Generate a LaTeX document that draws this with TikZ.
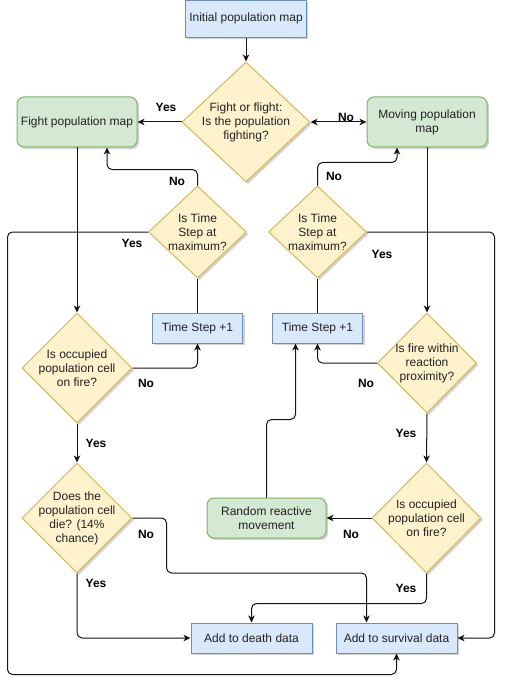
\documentclass[tikz,border=0pt]{standalone}
\usepackage{fontspec}
\setmainfont{Liberation Sans}
\usepackage{tikz}
\usetikzlibrary{
  shapes.geometric,
  arrows.meta,
  shadows
}
\definecolor{processfill}{RGB}{218, 232, 252}
\definecolor{processborder}{RGB}{108, 142, 191}
\definecolor{mapfill}{RGB}{213, 232, 212}
\definecolor{mapborder}{RGB}{130, 179, 102}
\definecolor{decisionfill}{RGB}{255, 242, 204}
\definecolor{decisionborder}{RGB}{214, 182, 86}
\definecolor{labelcolor}{RGB}{34, 34, 34}
\definecolor{linecolor}{RGB}{20, 20, 20}
\tikzset{
blocktext/.style={
  align=center,
  font=\fontsize{12}{14}\selectfont,
  text=labelcolor
},
boxshadow/.style={
  drop shadow={shadow xshift=2pt, shadow yshift=-2pt, opacity=0.18, fill=black}
},
processblock/.style={
  draw=processborder,
  fill=processfill,
  line width=1pt,
  boxshadow,
  minimum height=30pt,
  minimum width=90pt,
  blocktext
},
mapblock/.style={
  draw=mapborder,
  fill=mapfill,
  line width=1pt,
  rounded corners=7pt,
  boxshadow,
  minimum height=50pt,
  minimum width=120pt,
  blocktext
},
decision/.style={
  diamond,
  draw=decisionborder,
  fill=decisionfill,
  line width=1pt,
  inner sep=-15pt,
  boxshadow,
  blocktext
},
branchlabel/.style={
  font=\bfseries\fontsize{12}{14}\selectfont,
  text=black,
  inner sep=0pt
},
connector/.style={
  line width=1pt,
  draw=linecolor,
  rounded corners=5pt
},
arrow/.style={
  connector,
  -{Stealth[length=7pt,width=6.5pt,inset=2pt]}
},
doublearrow/.style={
  connector,
  {Stealth[length=7pt,width=6.5pt,inset=2pt]}-{Stealth[length=7pt,width=6.5pt,inset=2pt]}
}
}
\begin{document}
\begin{tikzpicture}[x=1pt,y=-1pt]
\useasboundingbox (0,0) rectangle (515,695);

\node[processblock, minimum width=120pt, minimum height=37pt] (init) at (246,18.7) {Initial population map};
\node[decision, minimum width=128pt, minimum height=120pt] (fight) at (246,122) {Fight or flight:\\Is the population\\fighting?};
\node[mapblock] (fightmap) at (77,122) {Fight population map};
\node[mapblock] (movemap) at (427,122) {Moving population\\map};

\node[decision, minimum width=98pt, minimum height=92pt] (tsl) at (197.5,232) {Is Time\\Step at\\maximum?};
\node[decision, minimum width=98pt, minimum height=92pt] (tsr) at (317.5,232) {Is Time\\Step at\\maximum?};
\node[processblock] (tsbl) at (197.5,328) {Time Step +1};
\node[processblock] (tsbr) at (317.5,328) {Time Step +1};

\node[decision, minimum width=110pt, minimum height=110pt] (occl) at (77,368) {Is occupied\\population cell\\on fire?};
\node[decision, minimum width=99pt, minimum height=100pt] (prox) at (427,363) {Is fire within\\reaction\\proximity?};
\node[decision, minimum width=110pt, minimum height=110pt] (die) at (77,518) {Does the\\population cell\\die? (14\%\\chance)};
\node[mapblock, minimum width=119pt, minimum height=40pt] (random) at (266.5,518) {Random reactive\\movement};
\node[decision, minimum width=109pt, minimum height=110pt] (occr) at (426.5,518) {Is occupied\\population cell\\on fire?};

\node[processblock, minimum width=121pt] (death) at (251.5,638) {Add to death data};
\node[processblock, minimum width=121pt] (survival) at (396.5,638) {Add to survival data};

\coordinate (leftrail) at (7.5,674.5);

\draw[arrow] (init.south) -- (fight.north);
\draw[arrow] (fight.west) -- (fightmap.east);
\draw[doublearrow] (fight.east) -- (movemap.west);
\draw[arrow] (fightmap.south) -- (occl.north);
\draw[arrow] (movemap.south) -- (prox.north);
\draw[arrow] (tsl.north) -- ++(0,-16) -| ([xshift=30pt]fightmap.south);
\draw[arrow] (tsr.north) -- ++(0,-23) -| ([xshift=-30pt]movemap.south);
\draw[arrow] (tsl.west) -| (leftrail) -| (survival.south);
\draw[arrow] (tsr.east) -| ([xshift=37pt]survival.east) -- (survival.east);
\draw[connector] (tsbl.north) -- (tsl.south);
\draw[connector] (tsbr.north) -- (tsr.south);
\draw[arrow] (occl.east) -| (tsbl.south);
\draw[arrow] (prox.west) -| (tsbr.south);
\draw[arrow] (occl.south) -- (die.north);
\draw[arrow] (prox.south) -- (occr.north);
\draw[arrow] (random.north) -- ++(0,-78) -| ([xshift=-22pt]tsbr.south);
\draw[arrow] (occr.west) -- (random.east);
\draw[arrow] (occr.south) -- ++(0,30) -| (death.north);
\draw[arrow] (die.south) |- (death.west);
\draw[arrow] (die.east) -| ++(34,55) -| ([xshift=-30pt]survival.north);

\node[branchlabel] (yesfight) at (166,107) {Yes};
\node[branchlabel] (nofight) at (346,117) {No};
\node[branchlabel] (notsl) at (177,181) {No};
\node[branchlabel] (notsr) at (334,176) {No};
\node[branchlabel] (yestsl) at (132,243) {Yes};
\node[branchlabel] (yestsr) at (382,254) {Yes};
\node[branchlabel] (nooccl) at (146,383) {No};
\node[branchlabel] (noprox) at (366,383) {No};
\node[branchlabel] (yesoccl) at (96,443) {Yes};
\node[branchlabel] (yesprox) at (406,433) {Yes};
\node[branchlabel] (nodie) at (146,534) {No};
\node[branchlabel] (nooccr) at (351,534) {No};
\node[branchlabel] (yesdie) at (96,583) {Yes};
\node[branchlabel] (yesoccr) at (406,588) {Yes};
\end{tikzpicture}
\end{document}
